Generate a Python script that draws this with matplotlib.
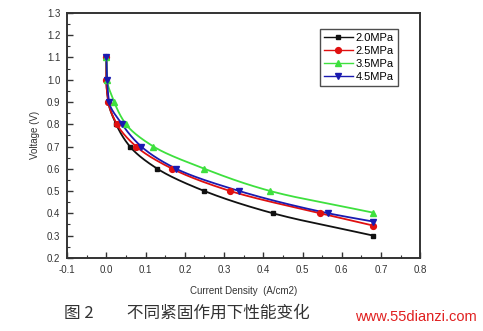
import matplotlib
matplotlib.use("Agg")
import matplotlib.pyplot as plt
import numpy as np
from matplotlib.ticker import MultipleLocator


# polarisation data, one list per clamping pressure
labels = ["2.0MPa", "2.5MPa", "3.5MPa", "4.5MPa"]

current_20 = [0.0, 0.0, 0.005, 0.025, 0.06, 0.13, 0.25, 0.425, 0.68]
voltage_20 = [1.1, 1.0, 0.9, 0.8, 0.7, 0.6, 0.5, 0.4, 0.30]

current_25 = [0.0, 0.0, 0.005, 0.027, 0.076, 0.168, 0.316, 0.545, 0.68]
voltage_25 = [1.1, 1.0, 0.9, 0.8, 0.7, 0.6, 0.5, 0.4, 0.345]

current_35 = [0.0, 0.002, 0.02, 0.05, 0.12, 0.25, 0.418, 0.68]
voltage_35 = [1.1, 1.0, 0.9, 0.8, 0.7, 0.6, 0.5, 0.403]

current_45 = [0.0, 0.002, 0.007, 0.04, 0.089, 0.178, 0.339, 0.566, 0.68]
voltage_45 = [1.1, 1.0, 0.9, 0.8, 0.7, 0.6, 0.5, 0.4, 0.363]

series = [
    (current_20, voltage_20, "#111111", "s", 3.3),
    (current_25, voltage_25, "#e01010", "o", 4.2),
    (current_35, voltage_35, "#3ee03e", "^", 4.8),
    (current_45, voltage_45, "#1a1ab0", "v", 4.8),
]


def pchip(xk, yk, xs):
    # monotone cubic (Fritsch-Carlson) so the curve never overshoots
    xk = np.asarray(xk, float)
    yk = np.asarray(yk, float)
    h = np.diff(xk)
    d = np.diff(yk) / h
    m = np.zeros_like(xk)
    for k in range(1, len(xk) - 1):
        if d[k - 1] * d[k] > 0:
            w1 = 2 * h[k] + h[k - 1]
            w2 = h[k] + 2 * h[k - 1]
            m[k] = (w1 + w2) / (w1 / d[k - 1] + w2 / d[k])
    m[0] = d[0]
    m[-1] = d[-1]
    idx = np.clip(np.searchsorted(xk, xs) - 1, 0, len(h) - 1)
    t = (xs - xk[idx]) / h[idx]
    h00 = 2 * t**3 - 3 * t**2 + 1
    h10 = t**3 - 2 * t**2 + t
    h01 = -2 * t**3 + 3 * t**2
    h11 = t**3 - t**2
    return h00 * yk[idx] + h10 * h[idx] * m[idx] + h01 * yk[idx + 1] + h11 * h[idx] * m[idx + 1]


def smooth_curve(cur, volt):
    # voltage falls monotonically, so treat current as a function of voltage
    v = np.asarray(volt, float)[::-1]
    c = np.asarray(cur, float)[::-1]
    vs = np.linspace(v[0], v[-1], 300)
    return pchip(v, c, vs), vs


plt.rcParams["font.family"] = ["Liberation Sans", "DejaVu Sans"]

fig = plt.figure(figsize=(4.83, 3.31), dpi=100)
ax = fig.add_axes([0.139, 0.221, 0.731, 0.740])

for (cur, volt, color, marker, ms), label in zip(series, labels):
    xs, ys = smooth_curve(cur, volt)
    ax.plot(xs, ys, color=color, linewidth=1.3, zorder=2)
    ax.plot(cur, volt, linestyle="none", marker=marker, markersize=ms,
            color=color, zorder=3)
    ax.plot([], [], color=color, linewidth=1.0, marker=marker, markersize=ms,
            label=label)

ax.set_xlim(-0.1, 0.8)
ax.set_ylim(0.2, 1.3)
ax.xaxis.set_major_locator(MultipleLocator(0.1))
ax.xaxis.set_minor_locator(MultipleLocator(0.05))
ax.yaxis.set_major_locator(MultipleLocator(0.1))
ax.yaxis.set_minor_locator(MultipleLocator(0.05))
ax.xaxis.set_major_formatter(plt.FuncFormatter(lambda v, _: f"{v:.1f}"))
ax.yaxis.set_major_formatter(plt.FuncFormatter(lambda v, _: f"{v:.1f}"))
ax.tick_params(which="major", direction="in", length=4, width=1.0,
               labelsize=7, colors="#333333", pad=5)
ax.tick_params(which="minor", direction="in", length=2, width=0.8,
               colors="#333333")
for spine in ax.spines.values():
    spine.set_linewidth(1.4)
    spine.set_color("#333333")

ax.set_xlabel("Current Density  (A/cm2)", fontsize=7, color="#333333", labelpad=8)
ax.set_ylabel("Voltage (V)", fontsize=7, color="#333333", labelpad=5)

leg = ax.legend(loc="upper right", bbox_to_anchor=(0.936, 0.935), fontsize=8,
                frameon=True, fancybox=False, borderpad=0.35, labelspacing=0.28,
                handlelength=2.6, handletextpad=0.25, borderaxespad=0.0)
leg.get_frame().set_edgecolor("#222222")
leg.get_frame().set_linewidth(1.0)

fig.text(0.133, 0.04, "图 2　　不同紧固作用下性能变化", fontsize=12,
         color="#333333", family=["Noto Sans CJK SC", "DejaVu Sans"])
fig.text(0.988, 0.03, "www.55dianzi.com", fontsize=10.5, color="#e02020",
         ha="right")

fig.savefig("out.png", dpi=100)
